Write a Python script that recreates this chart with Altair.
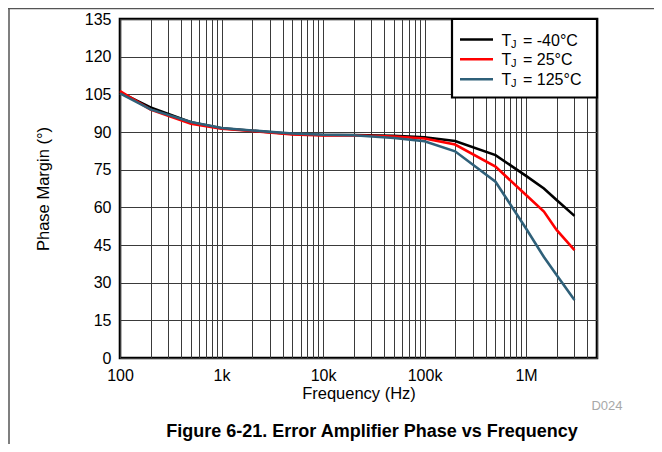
import altair as alt
import pandas as pd

# ---- data ----
freq_hz = [100, 200, 500, 1000, 2000, 5000, 10000, 20000, 50000, 100000,
           200000, 500000, 1000000, 1500000, 2000000, 3000000]
pm_m40 = [105.8, 99.8, 93.9, 91.5, 90.5, 89.2, 88.8, 88.8, 88.5, 87.9,
          86.4, 80.8, 72.5, 67.5, 62.9, 56.6]
pm_25 = [106.3, 98.9, 93.3, 91.3, 90.4, 89.0, 88.6, 88.7, 88.2, 87.4,
         85.0, 76.2, 64.9, 58.3, 51.0, 43.0]
pm_125 = [105.4, 99.0, 94.0, 91.6, 90.6, 89.4, 88.9, 88.7, 87.6, 86.3,
          82.3, 70.2, 51.6, 40.2, 33.1, 23.1]

series_temps = ["-40°C", "25°C", "125°C"]
series_values = [pm_m40, pm_25, pm_125]
series_colors = ["#000000", "#FF0000", "#2F6079"]

y_ticks = list(range(0, 136, 15))
x_grid = [m * 10 ** k for k in range(2, 7) for m in range(1, 10) if m * 10 ** k <= 5000000]
decade_labels = {100: "100", 1000: "1k", 10000: "10k", 100000: "100k", 1000000: "1M"}

FONT = "Liberation Sans"
W, H = 477, 339

label_expr = "".join(f"datum.value == {v} ? '{t}' : " for v, t in decade_labels.items()) + "''"

x_scale = alt.Scale(type="log", domain=[100, 5000000], nice=False)
y_scale = alt.Scale(domain=[0, 135], nice=False)

x_axis = alt.Axis(values=x_grid, labelExpr=label_expr, title="Frequency (Hz)",
                  labelOverlap=False, labelFlush=False, ticks=False, domain=False,
                  grid=True, gridColor="#3a3a3a", gridWidth=1,
                  labelFontSize=16, labelPadding=9, labelColor="#000",
                  titleFontSize=16.5, titleFontWeight="normal", titlePadding=2,
                  titleColor="#000")
y_axis = alt.Axis(values=y_ticks, title="Phase Margin (°)", ticks=False, domain=False,
                  grid=True, gridColor="#3a3a3a", gridWidth=1,
                  labelFontSize=16, labelPadding=9, labelColor="#000",
                  titleFontSize=16.5, titleFontWeight="normal", titlePadding=33,
                  titleColor="#000")

layers = []
for temp, vals, col in zip(series_temps, series_values, series_colors):
    df = pd.DataFrame({"f": freq_hz, "pm": vals, "s": temp})
    layers.append(alt.Chart(df).mark_line(color=col, strokeWidth=2.6).encode(
        x=alt.X("f:Q", scale=x_scale, axis=x_axis),
        y=alt.Y("pm:Q", scale=y_scale, axis=y_axis)))

one = pd.DataFrame({"k": [0]})

# legend box
layers.append(alt.Chart(one).mark_rect(fill="white", stroke="black", strokeWidth=2.2).encode(
    x=alt.value(332), x2=alt.value(W), y=alt.value(0), y2=alt.value(78.5)))
leg_rows = [20.5, 40.3, 60.3]
for temp, col, yy in zip(series_temps, series_colors, leg_rows):
    layers.append(alt.Chart(one).mark_rule(color=col, strokeWidth=2.6).encode(
        x=alt.value(340), x2=alt.value(373), y=alt.value(yy)))
    layers.append(alt.Chart(one).mark_text(text="T", font=FONT, fontSize=16, align="left",
                                           baseline="middle", color="black").encode(
        x=alt.value(381.5), y=alt.value(yy + 1)))
    layers.append(alt.Chart(one).mark_text(text="J", font=FONT, fontSize=11, align="left",
                                           baseline="middle", color="black").encode(
        x=alt.value(391), y=alt.value(yy + 5)))
    layers.append(alt.Chart(one).mark_text(text="= " + temp, font=FONT, fontSize=16, align="left",
                                           baseline="middle", color="black").encode(
        x=alt.value(403), y=alt.value(yy + 1)))

# footnote id and figure caption
layers.append(alt.Chart(one).mark_text(text="D024", font=FONT, fontSize=13, align="center",
                                       baseline="middle", color="#A8A8A8").encode(
    x=alt.value(487), y=alt.value(387)))
layers.append(alt.Chart(one).mark_text(text="Figure 6-21. Error Amplifier Phase vs Frequency",
                                       font=FONT, fontSize=18, fontWeight="bold", align="center",
                                       baseline="middle", color="black").encode(
    x=alt.value(252), y=alt.value(413)))

# outer frame (left and top edges)
layers.append(alt.Chart(one).mark_rule(color="#555", strokeWidth=1.5).encode(
    x=alt.value(-111), y=alt.value(-10.5), y2=alt.value(H + 86)))
layers.append(alt.Chart(one).mark_rule(color="#555", strokeWidth=1.5).encode(
    x=alt.value(-112), x2=alt.value(W + 57), y=alt.value(-10.5)))

chart = alt.layer(*layers).properties(
    width=W, height=H,
    autosize=alt.AutoSizeParams(type="none"),
    padding={"left": 112, "top": 11, "right": 57, "bottom": 86},
).configure_view(stroke="black", strokeWidth=2.6).configure_axis(
    labelFont=FONT, titleFont=FONT
)

chart.save("out.html", embed_options={"renderer": "svg", "actions": False})
